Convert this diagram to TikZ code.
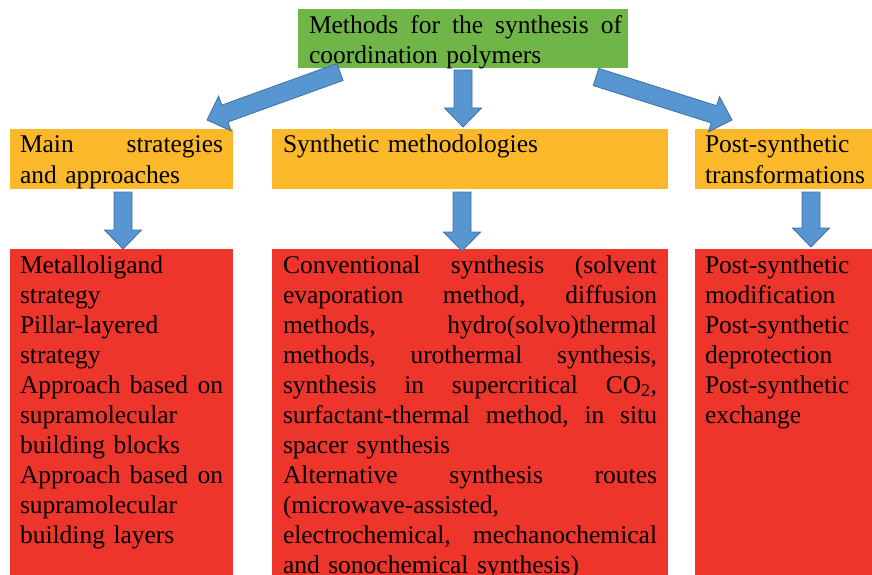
\documentclass[tikz,border=0pt]{standalone}
\usepackage{fontspec}
\setmainfont{Liberation Serif}
\usetikzlibrary{calc}
\definecolor{boxgreen}{RGB}{112,181,72}
\definecolor{boxorange}{RGB}{250,184,42}
\definecolor{boxred}{RGB}{237,53,43}
\definecolor{arrowfill}{RGB}{88,150,210}
\definecolor{arrowline}{RGB}{62,112,162}
\newcommand\blockarrow[3]{%
  \coordinate (#1-h) at ($(#3)!19pt!(#2)$);
  \filldraw[barrow] ($(#2)!9pt!90:(#3)$) -- ($(#1-h)!9pt!90:(#3)$) -- ($(#1-h)!18.5pt!90:(#3)$) -- (#3) -- ($(#1-h)!18.5pt!-90:(#3)$) -- ($(#1-h)!9pt!-90:(#3)$) -- ($(#2)!9pt!-90:(#3)$) -- cycle;}
\tikzset{
  panel/.style={rectangle, inner sep=0pt, outer sep=0pt, anchor=north west},
  txt/.style={inner sep=0pt, outer sep=0pt, anchor=north west, align=left, font=\fontsize{25.5}{30}\selectfont},
  barrow/.style={fill=arrowfill, draw=arrowline, line width=0.8pt, line join=miter}
}
\begin{document}
\begin{tikzpicture}[x=1pt,y=-1pt]
\useasboundingbox (0,0) rectangle (872,575);
\clip (0,0) rectangle (872,575);
% top box
\node[panel, fill=boxgreen, minimum width=330pt, minimum height=59pt] (top) at (298,9) {};
\node[txt, text width=313pt] (toptxt) at (309,12.5) {\strut Methods\hfill for\hfill the\hfill synthesis\hfill of\\coordination polymers};
% orange boxes
\node[panel, fill=boxorange, minimum width=223pt, minimum height=60pt] (o1) at (10,129) {};
\node[panel, fill=boxorange, minimum width=396pt, minimum height=60pt] (o2) at (272,129) {};
\node[panel, fill=boxorange, minimum width=190pt, minimum height=60pt] (o3) at (695,129) {};
\node[txt, text width=203pt] (o1t) at (20,132) {\strut Main\hfill strategies\\and approaches};
\node[txt, text width=374pt] (o2t) at (283,132) {\strut Synthetic methodologies};
\node[txt, text width=170pt] (o3t) at (705,132) {\strut Post-synthetic\\transformations};
% red boxes
\node[panel, fill=boxred, minimum width=223pt, minimum height=360pt] (r1) at (10,249) {};
\node[panel, fill=boxred, minimum width=396pt, minimum height=360pt] (r2) at (272,249) {};
\node[panel, fill=boxred, minimum width=190pt, minimum height=360pt] (r3) at (695,249) {};
\node[txt, text width=203pt] (r1t) at (20,252) {\strut Metalloligand\\strategy\\Pillar-layered\\strategy\\Approach\hfill based\hfill on\\supramolecular\\building blocks\\Approach\hfill based\hfill on\\supramolecular\\building layers};
\node[txt, text width=374pt] (r2t) at (283,252) {\strut Conventional\hfill synthesis\hfill (solvent\\evaporation\hfill method,\hfill diffusion\\methods,\hfill hydro(solvo)thermal\\methods,\hfill urothermal\hfill synthesis,\\synthesis\hfill in\hfill supercritical\hfill CO\textsubscript{2},\\surfactant-thermal\hfill method,\hfill in\hfill situ\\spacer synthesis\\Alternative\hfill synthesis\hfill routes\\(microwave-assisted,\\electrochemical,\hfill mechanochemical\\and sonochemical synthesis)};
\node[txt, text width=170pt] (r3t) at (705,252) {\strut Post-synthetic\\modification\\Post-synthetic\\deprotection\\Post-synthetic\\exchange};
% arrow end points
\coordinate (aLs) at (340,72);
\coordinate (aLe) at (207,120);
\coordinate (aMs) at (463,70);
\coordinate (aMe) at (463,127);
\coordinate (aRs) at (596,77);
\coordinate (aRe) at (732,120);
\coordinate (bLs) at (123,192);
\coordinate (bLe) at (123,249);
\coordinate (bMs) at (462,192);
\coordinate (bMe) at (462,251);
\coordinate (bRs) at (811,192);
\coordinate (bRe) at (811,247);
\blockarrow{a1}{aLs}{aLe}
\blockarrow{a2}{aMs}{aMe}
\blockarrow{a3}{aRs}{aRe}
\blockarrow{b1}{bLs}{bLe}
\blockarrow{b2}{bMs}{bMe}
\blockarrow{b3}{bRs}{bRe}
\end{tikzpicture}
\end{document}
